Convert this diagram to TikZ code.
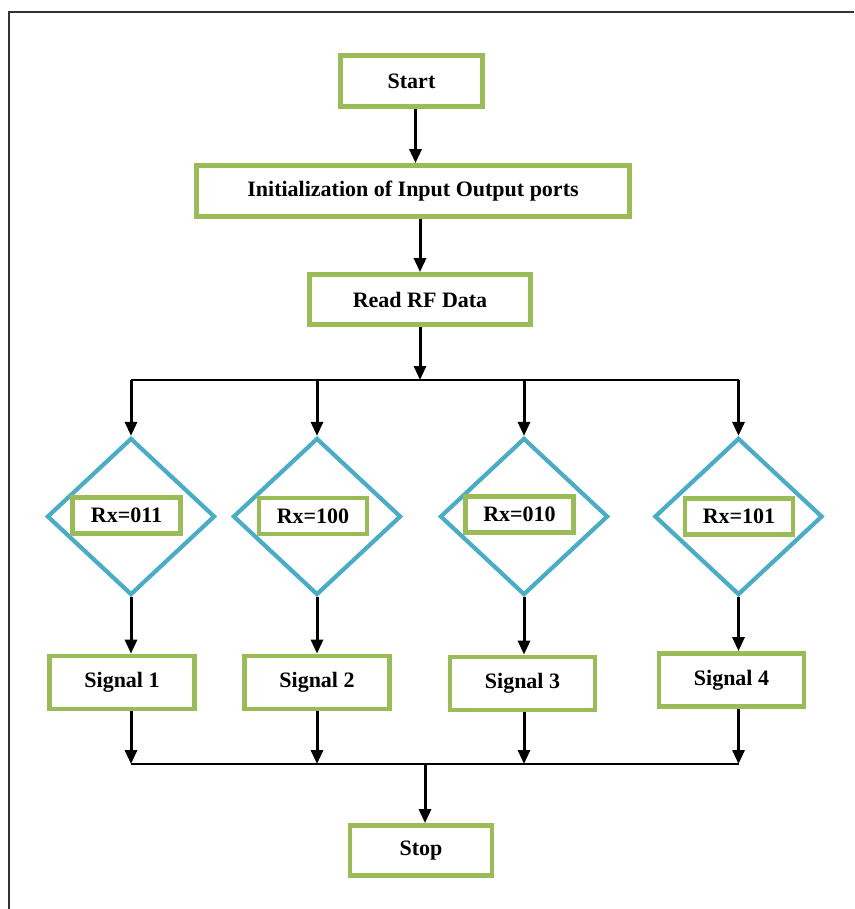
\documentclass[tikz,border=0pt]{standalone}
\usepackage{fontspec}
\setmainfont{Liberation Serif}
\usetikzlibrary{arrows.meta,shapes.geometric}
\definecolor{boxgreen}{HTML}{9BBB59}
\definecolor{testblue}{HTML}{4BACC6}

\begin{document}
\begin{tikzpicture}[x=1pt,y=-1pt,
    font=\fontsize{22}{26}\selectfont\bfseries,
    block/.style={draw=boxgreen,line width=4.8pt,fill=white,inner sep=0pt},
    test/.style={diamond,draw=testblue,line width=4.2pt,inner sep=0pt,
      minimum width=168pt,minimum height=157pt},
    flow/.style={line width=3pt,-{Triangle[length=14pt,width=12pt]}},
    bus/.style={line width=2.2pt}]
  \useasboundingbox (0,0) rectangle (854,909);
  \draw[line width=2pt,black!80] (854,12) -- (9,12) -- (9,909);

  \node[block,minimum width=142pt,minimum height=51pt] (start) at (411.5,81) {Start};
  \node[block,minimum width=433pt,minimum height=51pt] (init) at (413,191) {Initialization of Input Output ports};
  \node[block,minimum width=221pt,minimum height=50pt] (read) at (420,299.5) {Read RF Data};

  \node[test] (d1) at (131,516.5) {};
  \node[test] (d2) at (317,516.5) {};
  \node[test] (d3) at (524,516.5) {};
  \node[test] (d4) at (738.5,516.5) {};
  \node[block,minimum width=108pt,minimum height=36pt] (rx1) at (126.5,515.5) {Rx=011};
  \node[block,minimum width=108pt,minimum height=36pt] (rx2) at (313,516) {Rx=100};
  \node[block,minimum width=108pt,minimum height=36pt] (rx3) at (519.5,514.5) {Rx=010};
  \node[block,minimum width=108pt,minimum height=36pt] (rx4) at (739,516.5) {Rx=101};

  \node[block,minimum width=145pt,minimum height=53pt] (sig1) at (122,682.5) {Signal 1};
  \node[block,minimum width=145pt,minimum height=53pt] (sig2) at (317,682.5) {Signal 2};
  \node[block,minimum width=145pt,minimum height=53pt] (sig3) at (522.5,683.5) {Signal 3};
  \node[block,minimum width=145pt,minimum height=53pt] (sig4) at (731.5,680) {Signal 4};

  \node[block,minimum width=142pt,minimum height=50pt] (stop) at (421,850.5) {Stop};

  \coordinate (topbus) at (420,380);
  \coordinate (botbus) at (425,764);

  \begin{scope}
    \draw[flow] ([xshift=4pt]start.south) -- ([xshift=4pt]start.south |- init.north);
    \draw[flow] (init.south -| read) -- (read.north);
    \draw[flow] (read.south) -- (topbus);
    \draw[bus] (d1.north |- topbus) -- (d4.north |- topbus);
    \draw[flow] (d1.north |- topbus) -- (d1.north);
    \draw[flow] (d2.north |- topbus) -- (d2.north);
    \draw[flow] (d3.north |- topbus) -- (d3.north);
    \draw[flow] (d4.north |- topbus) -- (d4.north);
    \draw[flow] (d1.south) -- (d1.south |- sig1.north);
    \draw[flow] (d2.south) -- (d2.south |- sig2.north);
    \draw[flow] (d3.south) -- (d3.south |- sig3.north);
    \draw[flow] (d4.south) -- (d4.south |- sig4.north);
    \draw[flow] (sig1.south -| d1) -- (d1 |- botbus);
    \draw[flow] (sig2.south -| d2) -- (d2 |- botbus);
    \draw[flow] (sig3.south -| d3) -- (d3 |- botbus);
    \draw[flow] (sig4.south -| d4) -- (d4 |- botbus);
    \draw[bus] (d1 |- botbus) -- (d4 |- botbus);
    \draw[flow] (botbus) -- (botbus |- stop.north);
  \end{scope}
\end{tikzpicture}
\end{document}
